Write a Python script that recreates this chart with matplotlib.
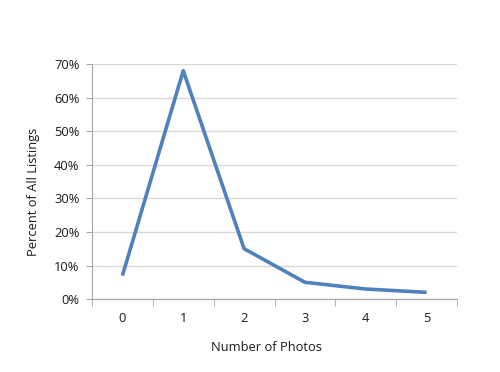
import numpy as np
import matplotlib.pyplot as plt
import matplotlib.ticker as mticker

# data
photos = [0, 1, 2, 3, 4, 5]
pct = [7, 68, 15, 5, 3, 2]
yticks = [0, 10, 20, 30, 40, 50, 60, 70]

plt.rcParams['font.family'] = ['Open Sans', 'DejaVu Sans']

fig = plt.figure(figsize=(5, 3.72), dpi=100)
ax = fig.add_axes([0.184, 0.196, 0.73, 0.632])

ax.plot(photos, pct, '-', color='#4F81BD', linewidth=2.6, solid_capstyle='butt', zorder=3)

ax.set_xlim(-0.5, 5.5)
ax.set_ylim(0, 70)
ax.set_yticks(yticks)
ax.yaxis.set_major_formatter(mticker.FuncFormatter(lambda v, p: '%d%%' % v))
ax.set_xticks(photos)
ax.set_xticks(np.arange(-0.5, 6, 1), minor=True)

ax.grid(axis='y', color='#D9D9D9', linewidth=1)
ax.set_axisbelow(True)
for s in ['top', 'right']:
    ax.spines[s].set_visible(False)
for s in ['left', 'bottom']:
    ax.spines[s].set_color('#A6A6A6')
    ax.spines[s].set_linewidth(0.8)

fs = 9.3
ax.tick_params(axis='x', which='major', length=0, pad=9, labelsize=fs, colors='#1a1a1a')
ax.tick_params(axis='x', which='minor', length=5, color='#A6A6A6', direction='out')
ax.tick_params(axis='y', length=4, color='#A6A6A6', labelsize=fs, labelcolor='#1a1a1a', pad=5)

ax.set_xlabel('Number of Photos', fontsize=fs, color='#1a1a1a')
ax.set_ylabel('Percent of All Listings', fontsize=fs, color='#1a1a1a')
ax.xaxis.set_label_coords(0.477, -0.18)
ax.yaxis.set_label_coords(-0.143, 0.455)

plt.savefig('out.png', dpi=100)
